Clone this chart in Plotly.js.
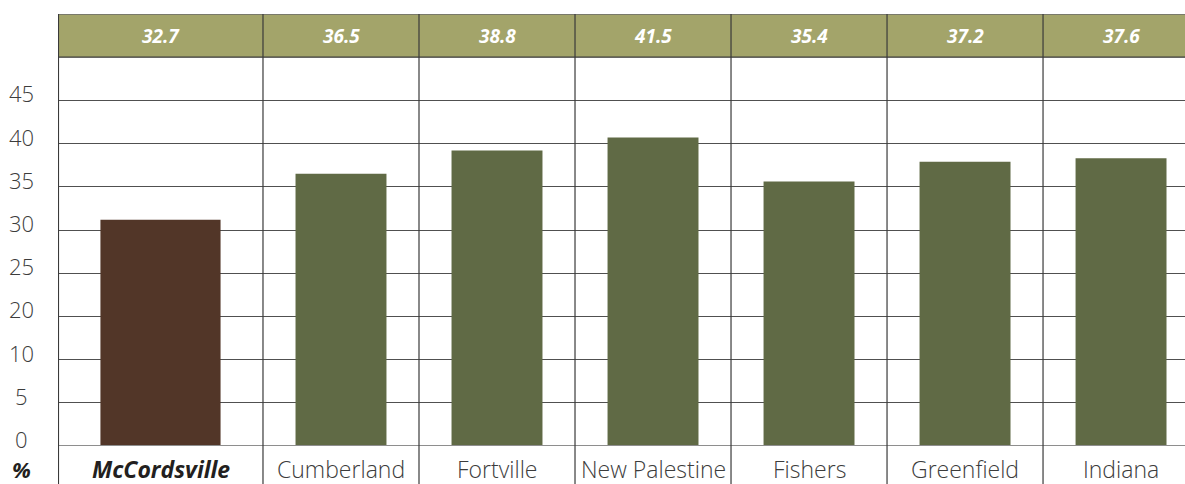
<!DOCTYPE html>
<html>
<head>
<meta charset="utf-8">
<script src="https://cdn.plot.ly/plotly-3.0.1.min.js"></script>
<style>
  html, body { margin: 0; padding: 0; background: #ffffff; }
  #chart { width: 1185px; height: 484px; }
</style>
</head>
<body>
<div id="chart"></div>
<script>
// ---- data ----
const categories = ["McCordsville", "Cumberland", "Fortville", "New Palestine", "Fishers", "Greenfield", "Indiana"];
// bar heights as drawn against the chart's axis (axis step of 5 per gridline)
const barValues = [26.2, 31.5, 34.2, 35.7, 30.6, 32.9, 33.3];
// values printed in the header band
const headerLabels = ["32.7", "36.5", "38.8", "41.5", "35.4", "37.2", "37.6"];
// y-axis tick labels as printed (one per gridline, bottom to top)
const yTickLabels = ["0", "5", "10", "20", "25", "30", "35", "40", "45"];
const yUnitLabel = "%";

// ---- styling / layout helpers ----
const STEP = 5;
const HEADER_LO = yTickLabels.length * STEP;      // 45
const HEADER_HI = HEADER_LO + STEP;               // 50
const X_LEFT = -0.814, X_RIGHT = 6.41;             // first column is wider
const firstCenter = (X_LEFT + 0.5) / 2;
const colCenters = categories.map((c, i) => i === 0 ? firstCenter : i);
const barWidths = categories.map((c, i) => i === 0 ? 0.77 : 0.583);
const barOffsets = categories.map((c, i) => (colCenters[i] - i) - barWidths[i] / 2);
const barColors = categories.map((c, i) => i === 0 ? "#523628" : "#606a45");

const FONT = "'Open Sans', 'Noto Sans', sans-serif";

const trace = {
  type: "bar",
  x: categories,
  y: barValues,
  width: barWidths,
  offset: barOffsets,
  marker: { color: barColors, line: { width: 0 } },
  hoverinfo: "skip",
  showlegend: false
};

const shapes = [];
// header band
shapes.push({ type: "rect", xref: "paper", yref: "y", x0: 0, x1: 1, y0: HEADER_LO, y1: HEADER_HI,
  fillcolor: "#a3a46a", line: { width: 0 }, layer: "below" });
// header borders
shapes.push({ type: "line", xref: "paper", yref: "y", x0: 0, x1: 1, y0: HEADER_HI, y1: HEADER_HI,
  line: { color: "#6b6b6b", width: 1.3 }, layer: "above" });
shapes.push({ type: "line", xref: "paper", yref: "y", x0: 0, x1: 1, y0: HEADER_LO, y1: HEADER_LO,
  line: { color: "#3a3a3a", width: 1.3 }, layer: "above" });
// baseline
shapes.push({ type: "line", xref: "paper", yref: "y", x0: 0, x1: 1, y0: 0, y1: 0,
  line: { color: "#8e8e8e", width: 2 }, layer: "above" });
// vertical separators (run from top border to bottom of label row)
const sepXs = [X_LEFT + 0.003].concat(categories.slice(1).map((c, i) => i + 0.5));
sepXs.forEach(xv => {
  shapes.push({ type: "line", xref: "x", yref: "paper", x0: xv, x1: xv, y0: -0.095, y1: 1.0,
    line: { color: "#3a3a3a", width: 1.2 }, layer: "above" });
});

const annotations = [];
// header values
headerLabels.forEach((t, i) => {
  annotations.push({ xref: "x", yref: "y", x: colCenters[i], y: (HEADER_LO + HEADER_HI) / 2,
    text: "<b><i>" + t + "</i></b>", showarrow: false, xanchor: "center", yanchor: "middle",
    font: { family: FONT, size: 19, color: "#ffffff" } });
});
// category labels
categories.forEach((c, i) => {
  const txt = i === 0 ? "<b><i>" + c + "</i></b>" : c;
  annotations.push({ xref: "x", yref: "paper", x: colCenters[i], y: -0.054,
    text: txt, showarrow: false, xanchor: "center", yanchor: "middle",
    font: { family: FONT, size: 23, color: i === 0 ? "#231f20" : "#3c3c3c", weight: i === 0 ? 700 : 300 } });
});
// y tick labels
yTickLabels.forEach((t, i) => {
  annotations.push({ xref: "paper", yref: "y", x: -0.032, y: i * STEP,
    text: t, showarrow: false, xanchor: "center", yanchor: "middle", yshift: 7,
    font: { family: FONT, size: 22, color: "#3c3c3c", weight: 300 } });
});
// unit label
annotations.push({ xref: "paper", yref: "paper", x: -0.032, y: -0.054,
  text: "<b><i>" + yUnitLabel + "</i></b>", showarrow: false, xanchor: "center", yanchor: "middle",
  font: { family: FONT, size: 22, color: "#231f20" } });

const layout = {
  width: 1185, height: 484,
  margin: { l: 58, r: 0, t: 14, b: 38, pad: 0 },
  paper_bgcolor: "#ffffff", plot_bgcolor: "#ffffff",
  showlegend: false,
  xaxis: {
    type: "category", range: [X_LEFT, X_RIGHT], showgrid: false, zeroline: false,
    showticklabels: false, ticks: "", showline: false, fixedrange: true
  },
  yaxis: {
    range: [0, HEADER_HI], tickvals: yTickLabels.map((t, i) => i * STEP),
    showticklabels: false, ticks: "", showgrid: true, gridcolor: "#505050", gridwidth: 1,
    zeroline: false, showline: false, fixedrange: true
  },
  shapes: shapes,
  annotations: annotations,
  font: { family: FONT }
};

Plotly.newPlot("chart", [trace], layout, { displayModeBar: false, staticPlot: true });
</script>
</body>
</html>
